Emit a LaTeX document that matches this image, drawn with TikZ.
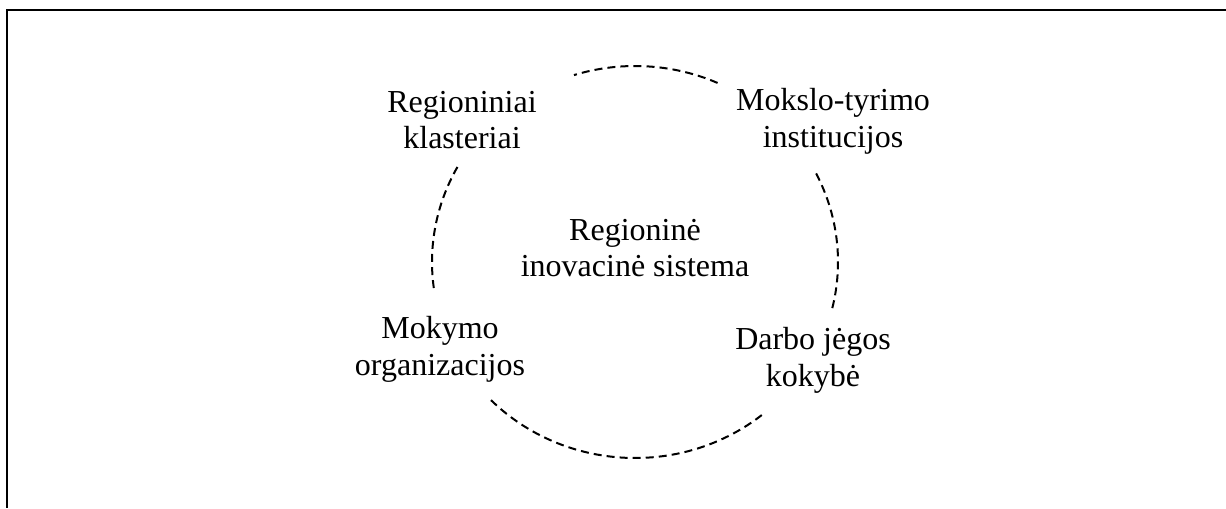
\documentclass[tikz,border=0pt]{standalone}
\usepackage{fontspec}
\setmainfont{Liberation Serif}
\usetikzlibrary{calc}
\begin{document}
\begin{tikzpicture}[x=0.75pt,y=0.75pt,
  lbl/.style={align=center,inner sep=0pt,font=\fontsize{24pt}{27.6pt}\selectfont},
  ring/.style={dash pattern=on 6pt off 3.8pt,line width=1.5pt},
  frame/.style={line width=1.8pt}]
\useasboundingbox (0,0) rectangle (1226,-508);
\coordinate (tr) at (1226,-10);
\coordinate (tl) at (7,-10);
\coordinate (bl) at (7,-508);
\draw[frame] (tr) -- (tl) -- (bl);
\coordinate (c) at (635,-262);
\node[lbl] (rk) at (462,-120) {Regioniniai\\klasteriai};
\node[lbl] (mt) at (833,-121) {Mokslo-tyrimo\\institucijos};
\node[lbl] (ri) at (635,-248) {Regioninė\\inovacinė sistema};
\node[lbl] (mo) at (440,-349) {Mokymo\\organizacijos};
\node[lbl] (dj) at (813,-360) {Darbo jėgos\\kokybė};
\draw[ring] ($(c)+(66:203 and 196)$) arc[start angle=66,end angle=107.5,x radius=203,y radius=196];
\draw[ring] ($(c)+(151:203 and 196)$) arc[start angle=151,end angle=189,x radius=203,y radius=196];
\draw[ring] ($(c)+(224.8:203 and 196)$) arc[start angle=224.8,end angle=309.7,x radius=203,y radius=196];
\draw[ring] ($(c)+(-13.6:203 and 196)$) arc[start angle=-13.6,end angle=28,x radius=203,y radius=196];
\end{tikzpicture}
\end{document}
